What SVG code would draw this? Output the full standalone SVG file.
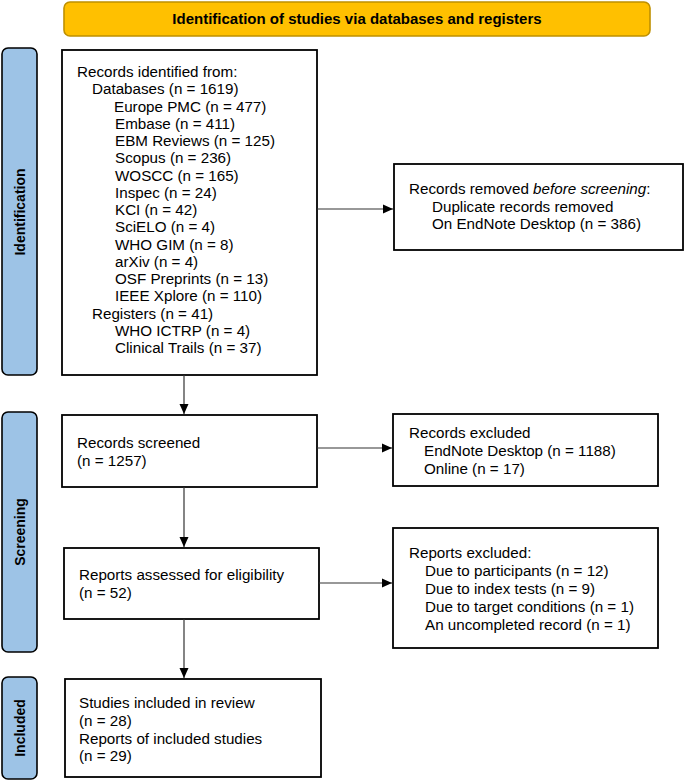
<svg xmlns="http://www.w3.org/2000/svg" width="685" height="781" viewBox="0 0 685 781">
<defs>
<marker id="ah" markerWidth="10" markerHeight="10" refX="10" refY="5" orient="auto" markerUnits="userSpaceOnUse">
<path d="M0,0.5 L10,5 L0,9.5 Z" fill="#000"/>
</marker>
<style>
.box{fill:#fff;stroke:#000;stroke-width:1.8}
.side{fill:#9DC3E6;stroke:#000;stroke-width:1.6}
.t{font-family:"Liberation Sans",Arial,sans-serif;font-size:15.2px;fill:#000}
.b{font-family:"Liberation Sans",Arial,sans-serif;font-size:15px;font-weight:bold;fill:#000}
.s{font-family:"Liberation Sans",Arial,sans-serif;font-size:14px;font-weight:bold;fill:#000}
.c{stroke:#333;stroke-width:1.2;fill:none;marker-end:url(#ah)}
</style>
</defs>
<rect width="685" height="781" fill="#fff"/>

<g id="banner">
<rect x="64" y="2" width="586" height="34" rx="6" fill="#FFC000" stroke="#BF9000" stroke-width="1.6"/>
<text class="b" x="357" y="24" text-anchor="middle">Identification of studies via databases and registers</text>
</g>

<g id="phase-identification">
<rect class="side" x="2" y="48" width="35" height="327" rx="6"/>
<text class="s" transform="translate(25,212) rotate(-90)" text-anchor="middle">Identification</text>
</g>
<g id="phase-screening">
<rect class="side" x="2" y="412" width="35" height="240" rx="6"/>
<text class="s" transform="translate(25,532) rotate(-90)" text-anchor="middle">Screening</text>
</g>
<g id="phase-included">
<rect class="side" x="2" y="677" width="35" height="102" rx="6"/>
<text class="s" transform="translate(25,728) rotate(-90)" text-anchor="middle">Included</text>
</g>

<g id="records-identified">
<rect class="box" x="62" y="50" width="255" height="325"/>
<text class="t" x="77" y="77">Records identified from:</text>
<text class="t" x="92" y="94.3">Databases (n = 1619)</text>
<text class="t" x="114" y="111.5">Europe PMC (n = 477)</text>
<text class="t" x="115" y="128.8">Embase (n = 411)</text>
<text class="t" x="115" y="146">EBM Reviews (n = 125)</text>
<text class="t" x="115" y="163.3">Scopus (n = 236)</text>
<text class="t" x="115" y="180.6">WOSCC (n = 165)</text>
<text class="t" x="115" y="197.8">Inspec (n = 24)</text>
<text class="t" x="115" y="215.1">KCI (n = 42)</text>
<text class="t" x="115" y="232.3">SciELO (n = 4)</text>
<text class="t" x="115" y="249.6">WHO GIM (n = 8)</text>
<text class="t" x="115" y="266.9">arXiv (n = 4)</text>
<text class="t" x="115" y="284.1">OSF Preprints (n = 13)</text>
<text class="t" x="115" y="301.4">IEEE Xplore (n = 110)</text>
<text class="t" x="92" y="318.6">Registers (n = 41)</text>
<text class="t" x="115" y="335.9">WHO ICTRP (n = 4)</text>
<text class="t" x="115" y="353.2">Clinical Trails (n = 37)</text>
</g>

<g id="records-removed">
<rect class="box" x="394" y="164" width="289" height="86"/>
<text class="t" x="409" y="194">Records removed <tspan font-style="italic">before screening</tspan>:</text>
<text class="t" x="432" y="211.7">Duplicate records removed</text>
<text class="t" x="432" y="229.4">On EndNote Desktop (n = 386)</text>
</g>

<g id="records-screened">
<rect class="box" x="62" y="415" width="255" height="72"/>
<text class="t" x="77" y="448">Records screened</text>
<text class="t" x="77" y="466">(n = 1257)</text>
</g>

<g id="records-excluded">
<rect class="box" x="393" y="414" width="265" height="72"/>
<text class="t" x="409" y="438">Records excluded</text>
<text class="t" x="424" y="456">EndNote Desktop (n = 1188)</text>
<text class="t" x="424" y="474">Online (n = 17)</text>
</g>

<g id="reports-assessed">
<rect class="box" x="64" y="548" width="255" height="71"/>
<text class="t" x="79" y="580">Reports assessed for eligibility</text>
<text class="t" x="79" y="598">(n = 52)</text>
</g>

<g id="reports-excluded">
<rect class="box" x="393" y="528" width="265" height="120"/>
<text class="t" x="409" y="558">Reports excluded:</text>
<text class="t" x="425" y="576">Due to participants (n = 12)</text>
<text class="t" x="425" y="594">Due to index tests  (n = 9)</text>
<text class="t" x="425" y="612">Due to target conditions (n = 1)</text>
<text class="t" x="425" y="629.5">An uncompleted record (n = 1)</text>
</g>

<g id="studies-included">
<rect class="box" x="65" y="679" width="256" height="98"/>
<text class="t" x="79" y="708">Studies included in review</text>
<text class="t" x="79" y="726">(n = 28)</text>
<text class="t" x="79" y="743.5">Reports of included studies</text>
<text class="t" x="79" y="761">(n = 29)</text>
</g>

<g id="connectors">
<line class="c" x1="184" y1="375" x2="184" y2="414"/>
<line class="c" x1="184" y1="487" x2="184" y2="547"/>
<line class="c" x1="184" y1="619" x2="184" y2="678"/>
<line class="c" x1="317" y1="209" x2="393" y2="209"/>
<line class="c" x1="317" y1="448" x2="392" y2="448"/>
<line class="c" x1="319" y1="583" x2="392" y2="583"/>
</g>
</svg>
